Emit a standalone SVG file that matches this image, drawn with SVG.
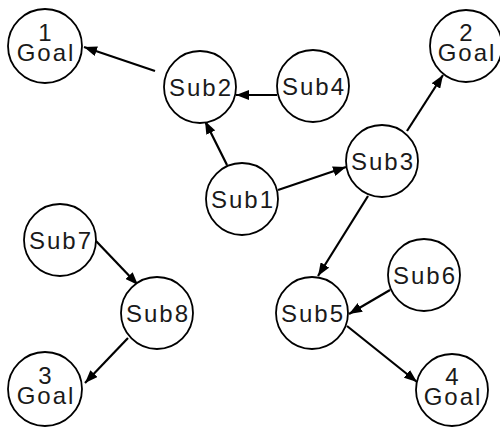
<svg xmlns="http://www.w3.org/2000/svg" width="500" height="427" viewBox="0 0 500 427">
<style>
.n circle{fill:#fff;stroke:#000;stroke-width:1.8}
.n text{font-family:"Liberation Sans",Arial,sans-serif;font-size:24px;fill:#1a1a1a;text-anchor:middle;letter-spacing:2px}
.e line{stroke:#000;stroke-width:2.2;marker-end:url(#arr)}
</style>
<defs>
<marker id="arr" markerWidth="14" markerHeight="10" refX="13" refY="5" orient="auto" markerUnits="userSpaceOnUse"><path d="M0,0 L13,5 L0,10 z" fill="#000"/></marker>
</defs>
<g id="edges" class="e">
<line x1="155" y1="71" x2="84" y2="47"/>
<line x1="277" y1="95" x2="236" y2="95"/>
<line x1="227" y1="165" x2="205" y2="121"/>
<line x1="278" y1="190" x2="346" y2="167"/>
<line x1="407" y1="131" x2="443" y2="75"/>
<line x1="368" y1="196" x2="318" y2="276"/>
<line x1="390" y1="290" x2="349" y2="314"/>
<line x1="347" y1="326" x2="417" y2="382"/>
<line x1="96" y1="241" x2="138" y2="285"/>
<line x1="128" y1="338" x2="85" y2="383"/>
</g>
<g id="goal1" class="n"><circle cx="45" cy="46" r="37"/><text><tspan x="46" y="41">1</tspan><tspan x="46" dy="20">Goal</tspan></text></g>
<g id="goal2" class="n"><circle cx="466" cy="46" r="36"/><text><tspan x="467" y="41">2</tspan><tspan x="467" dy="20">Goal</tspan></text></g>
<g id="goal3" class="n"><circle cx="45" cy="389" r="37"/><text><tspan x="46" y="384">3</tspan><tspan x="46" dy="20">Goal</tspan></text></g>
<g id="goal4" class="n"><circle cx="452" cy="390" r="36"/><text><tspan x="453" y="385">4</tspan><tspan x="453" dy="20">Goal</tspan></text></g>
<g id="sub1" class="n"><circle cx="242" cy="199" r="36"/><text x="243" y="208">Sub1</text></g>
<g id="sub2" class="n"><circle cx="200" cy="87" r="36"/><text x="201" y="96">Sub2</text></g>
<g id="sub3" class="n"><circle cx="382" cy="161" r="36"/><text x="383" y="170">Sub3</text></g>
<g id="sub4" class="n"><circle cx="313" cy="86" r="36"/><text x="314" y="95">Sub4</text></g>
<g id="sub5" class="n"><circle cx="312" cy="313" r="36"/><text x="313" y="322">Sub5</text></g>
<g id="sub6" class="n"><circle cx="424" cy="275" r="36"/><text x="425" y="284">Sub6</text></g>
<g id="sub7" class="n"><circle cx="60" cy="240" r="36"/><text x="61" y="249">Sub7</text></g>
<g id="sub8" class="n"><circle cx="157" cy="313" r="36"/><text x="158" y="322">Sub8</text></g>
</svg>
